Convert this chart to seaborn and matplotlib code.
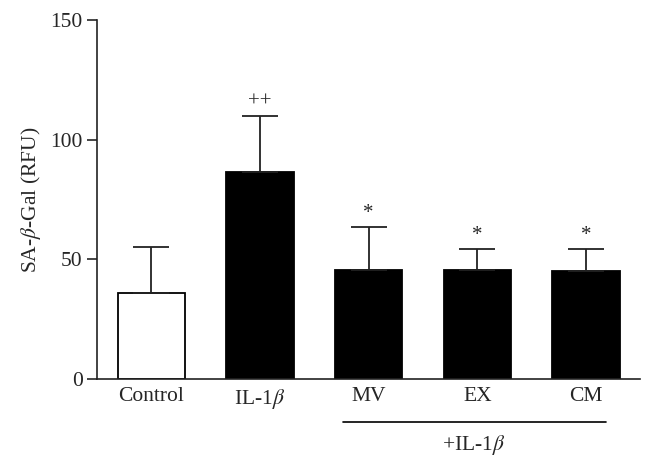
import matplotlib
matplotlib.use("Agg")
import matplotlib.pyplot as plt
import seaborn as sns
import pandas as pd

# data
groups = ["Control", "IL-1$\\beta$", "MV", "EX", "CM"]
means = [36, 86.5, 45.5, 45.5, 45]
sd_up = [19, 23.5, 18, 9, 9.5]
marks = ["", "++", "*", "*", "*"]
bar_colors = ["white", "black", "black", "black", "black"]

df = pd.DataFrame({"group": groups, "value": means})

sns.set_style("ticks")
plt.rcParams["font.family"] = ["Liberation Serif", "DejaVu Serif"]
plt.rcParams["mathtext.fontset"] = "stix"
fs = 15.5

fig = plt.figure(figsize=(6.52, 4.72), dpi=100)
ax = fig.add_axes([0.149, 0.197, 0.833, 0.761])

sns.barplot(data=df, x="group", y="value", hue="group", palette=bar_colors,
            edgecolor="black", linewidth=1.3, width=0.62, legend=False, ax=ax)

# one-sided error bars (upper only)
xs = range(len(groups))
ax.errorbar(xs, means, yerr=[[0] * len(groups), sd_up], fmt="none",
            ecolor="#222222", elinewidth=1.3, capsize=13, capthick=1.3, zorder=1)

for i, m in enumerate(marks):
    if m:
        ax.text(i, means[i] + sd_up[i] + 1.5, m, ha="center", va="bottom", fontsize=15)

ax.set_xlim(-0.5, 4.5)
ax.set_ylim(0, 150)
ax.set_yticks([0, 50, 100, 150])
ax.set_xlabel("")
ax.set_ylabel("SA-$\\beta$-Gal (RFU)", fontsize=fs, labelpad=5)
ax.tick_params(axis="y", labelsize=fs, length=7, width=1.2, direction="out")
ax.tick_params(axis="x", labelsize=fs, length=0, pad=6)
sns.despine(ax=ax)
for s in ["left", "bottom"]:
    ax.spines[s].set_linewidth(1.2)
    ax.spines[s].set_color("#222222")

# bracket for the treated groups
ax.plot([1.76, 4.18], [-0.12, -0.12], transform=ax.get_xaxis_transform(),
        color="black", lw=1.2, clip_on=False)
ax.text(2.97, -0.15, "+IL-1$\\beta$", transform=ax.get_xaxis_transform(),
        ha="center", va="top", fontsize=fs)

fig.savefig("out.png", dpi=100)
